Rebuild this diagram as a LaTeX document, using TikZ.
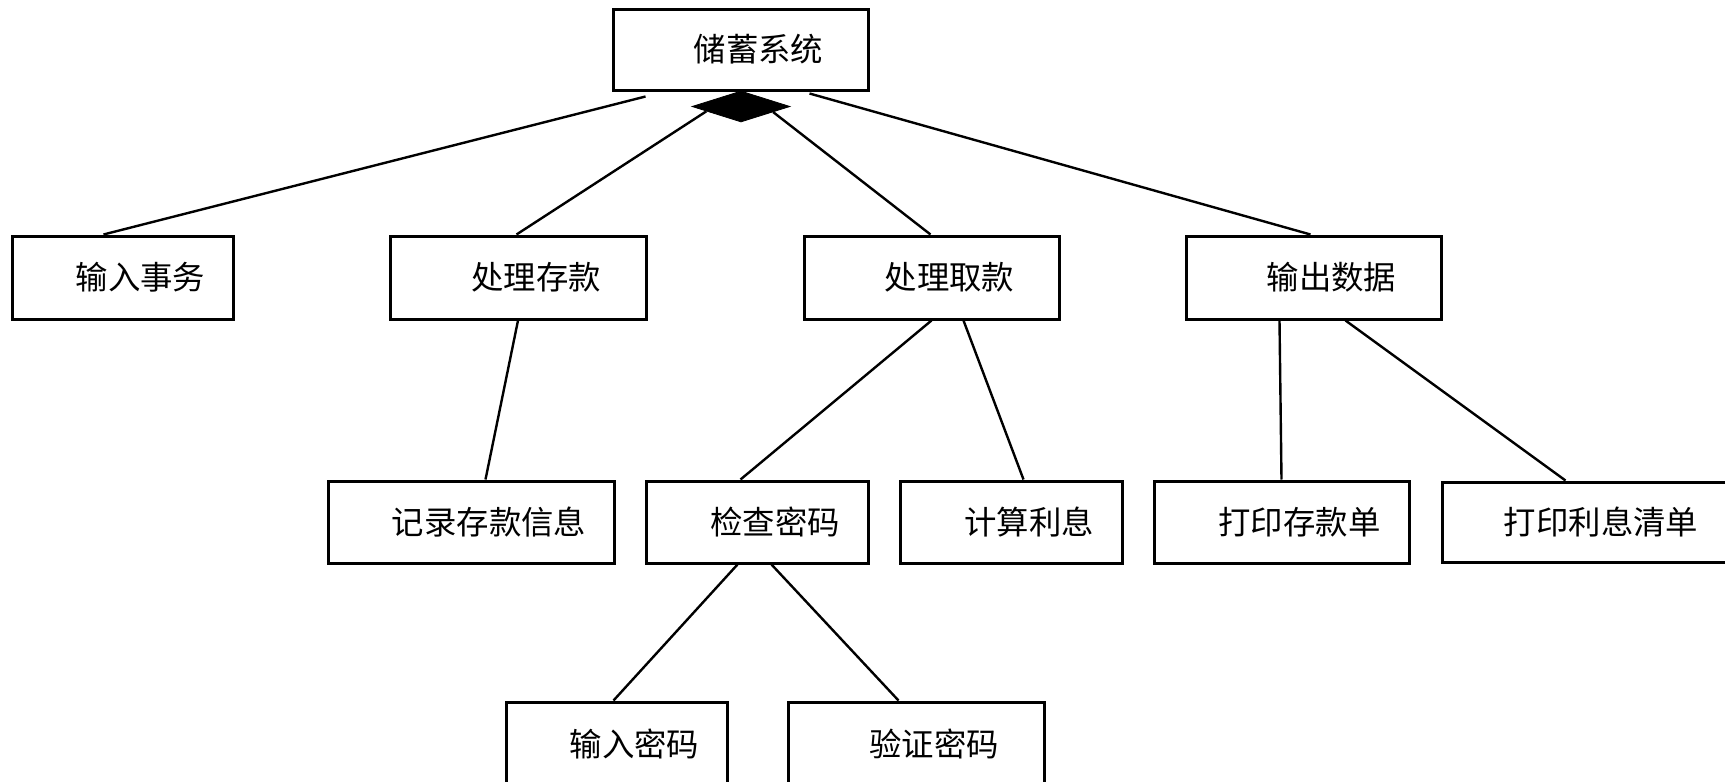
\documentclass[tikz,border=0pt]{standalone}
\usepackage{fontspec}
\newfontfamily\cjk{Noto Sans CJK SC}
\usetikzlibrary{shapes.geometric,calc}
\begin{document}
\begin{tikzpicture}[x=0.5pt,y=-0.5pt,
  box/.style={draw, line width=1.5pt, inner sep=0pt, rectangle,
    font=\cjk\fontsize{16.2}{19}\selectfont},
  conn/.style={line width=1.2pt}]
\clip (0,0) rectangle (1725,782);
\fill[white] (0,0) rectangle (1725,782);
\newcommand{\pad}{\hspace*{18pt}}
% top
\node[box, minimum width=127.5pt, minimum height=40.5pt] (top) at (740.5,49.5) {\pad 储蓄系统};
\node[diamond, fill=black, draw=black, line width=0.4pt, inner sep=0pt,
  minimum width=49pt, minimum height=15.5pt] (dia) at (741,106.5) {};
% row 1
\node[box, minimum width=110.5pt, minimum height=41.5pt] (n1) at (122.5,277.5) {\pad 输入事务};
\node[box, minimum width=128pt, minimum height=41.5pt] (n2) at (518,277.5) {\pad 处理存款};
\node[box, minimum width=127.5pt, minimum height=41.5pt] (n3) at (931.5,277.5) {\pad 处理取款};
\node[box, minimum width=127.5pt, minimum height=41.5pt] (n4) at (1313.5,277.5) {\pad 输出数据};
% row 2
\node[box, minimum width=143pt, minimum height=41pt] (m1) at (471,522) {\pad 记录存款信息};
\node[box, minimum width=111pt, minimum height=41pt] (m2) at (757,522) {\pad 检查密码};
\node[box, minimum width=111pt, minimum height=41pt] (m3) at (1011,522) {\pad 计算利息};
\node[box, minimum width=127.5pt, minimum height=41pt] (m4) at (1281.5,522) {\pad 打印存款单};
\node[box, minimum width=159pt, minimum height=40pt] (m5) at (1601,522) {打印利息清单};
% row 3
\node[box, minimum width=110.5pt, minimum height=41.5pt] (b1) at (616.5,743.5) {\pad 输入密码};
\node[box, minimum width=128pt, minimum height=41.5pt] (b2) at (916,743.5) {\pad 验证密码};
% connectors
\draw[conn] ([shift={(34,5)}]top.south west) -- ([shift={(93,0)}]n1.north west);
\draw[conn] ($(dia.west)!0.3!(dia.south)$) -- ([shift={(128,0)}]n2.north west);
\draw[conn] ($(dia.east)!0.35!(dia.south)$) -- ([shift={(128,0)}]n3.north west);
\draw[conn] ([shift={(-60,2)}]top.south east) -- ([shift={(126,0)}]n4.north west);
\draw[conn] (n2.south) -- ([shift={(159,0)}]m1.north west);
\draw[conn] (n3.south) -- ([shift={(96,0)}]m2.north west);
\draw[conn] ([shift={(161,0)}]n3.south west) -- ([shift={(125,0)}]m3.north west);
\draw[conn] ([shift={(95,0)}]n4.south west) -- (m4.north);
\draw[conn] ([shift={(161,0)}]n4.south west) -- ([shift={(125,0)}]m5.north west);
\draw[conn] ([shift={(93,0)}]m2.south west) -- ([shift={(109,0)}]b1.north west);
\draw[conn] ([shift={(127,0)}]m2.south west) -- ([shift={(112,0)}]b2.north west);
\end{tikzpicture}
\end{document}
